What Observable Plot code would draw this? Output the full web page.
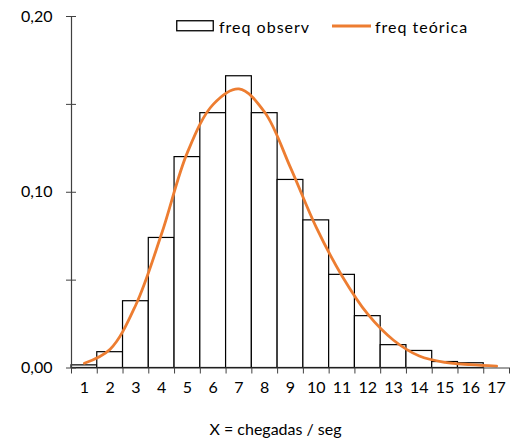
<!DOCTYPE html>
<html>
<head>
<meta charset="utf-8">
<script src="https://cdn.jsdelivr.net/npm/d3@7"></script>
<script src="https://cdn.jsdelivr.net/npm/@observablehq/plot@0.6"></script>
<style>
  body { margin: 0; background: white; }
  #wrap { position: relative; width: 517px; height: 446px; font-family: Lato, "Open Sans", sans-serif; }
  #legend { position: absolute; top: 16px; left: 176px; font-size: 16px; letter-spacing: 1px; color: #000; white-space: nowrap; }
  #legend span.item { position: absolute; top: 0; display: flex; align-items: center; }
</style>
</head>
<body>
<div id="wrap">
  <div id="legend"></div>
</div>
<script>
// X categories (chegadas / seg)
const categories = [1, 2, 3, 4, 5, 6, 7, 8, 9, 10, 11, 12, 13, 14, 15, 16, 17];
// observed frequency (bars)
const freqObserv = [0.0015, 0.009, 0.038, 0.074, 0.12, 0.145, 0.166, 0.145, 0.107, 0.084, 0.053, 0.0295, 0.013, 0.0097, 0.0034, 0.0027, 0];
// theoretical frequency (curve)
const freqTeorica = [0.0027, 0.0107, 0.036, 0.0765, 0.1227, 0.150, 0.1588, 0.1455, 0.114, 0.080, 0.0524, 0.0306, 0.0158, 0.0068, 0.0032, 0.0019, 0.0011];
// y axis ticks
const yTicks = [0, 0.05, 0.10, 0.15, 0.20];
const yLabelTicks = [0, 0.10, 0.20];
const xTitle = "X = chegadas / seg";
const seriesNames = ["freq observ", "freq teórica"];

const obs = categories.map((c, i) => ({x: c, v: freqObserv[i]}));
const theo = categories.map((c, i) => ({x: c, v: freqTeorica[i]}));
const boundaries = [...categories.map(c => c - 0.5), categories[categories.length - 1] + 0.5];

const chart = Plot.plot({
  width: 517,
  height: 446,
  marginLeft: 71,
  marginRight: 8,
  marginTop: 16,
  marginBottom: 78.5,
  x: {type: "linear", domain: [0.5, 17.5]},
  y: {domain: [0, 0.2]},
  style: {fontFamily: "Lato, 'Open Sans', sans-serif", fontSize: "16px", color: "#000", background: "white", overflow: "visible"},
  marks: [
    Plot.rectY(obs, {x1: d => d.x - 0.5, x2: d => d.x + 0.5, y: "v", fill: "white", stroke: "black", strokeWidth: 1.2}),
    Plot.line(theo, {x: "x", y: "v", stroke: "#ED7D31", strokeWidth: 2.8, curve: "catmull-rom"}),
    Plot.ruleY([0], {stroke: "#404040", strokeWidth: 1.2}),
    Plot.ruleX([0.5], {stroke: "#404040", strokeWidth: 1.2}),
    Plot.axisX(boundaries, {tickSize: 6, tickFormat: () => "", label: null, stroke: "#404040"}),
    Plot.axisX(categories, {tickSize: 0, tickPadding: 14, tickFormat: d => String(d), label: null, fill: "#000"}),
    Plot.axisY(yTicks, {tickSize: 10, dx: 5, tickFormat: () => "", label: null, stroke: "#404040"}),
    Plot.axisY(yLabelTicks, {tickSize: 0, tickPadding: 19, tickFormat: d => d.toFixed(2).replace(".", ","), label: null, fill: "#000", ariaLabel: "ylabels"}),
    Plot.text([xTitle], {frameAnchor: "bottom", dy: 62, dx: -15, lineAnchor: "middle", text: d => d, fontSize: 16, fill: "#000", ariaLabel: "xtitle"})
  ]
});
document.getElementById("wrap").appendChild(chart);
d3.select(chart).selectAll("g[aria-label='ylabels'] text").style("letter-spacing", "1.8px");
d3.select(chart).selectAll("g[aria-label='xtitle'] text").style("letter-spacing", "1.1px");

const legend = document.getElementById("legend");
legend.innerHTML = `
  <span class="item" style="left:0px;height:20px;">
    <svg width="38" height="12" style="margin-right:5px"><rect x="0.75" y="0.75" width="36.5" height="10" fill="white" stroke="black" stroke-width="1.3"/></svg>${seriesNames[0]}
  </span>
  <span class="item" style="left:156px;height:20px;">
    <svg width="40" height="12" style="margin-right:3px"><line x1="0" y1="6" x2="39" y2="6" stroke="#ED7D31" stroke-width="2.8"/></svg>${seriesNames[1]}
  </span>`;
</script>
</body>
</html>
